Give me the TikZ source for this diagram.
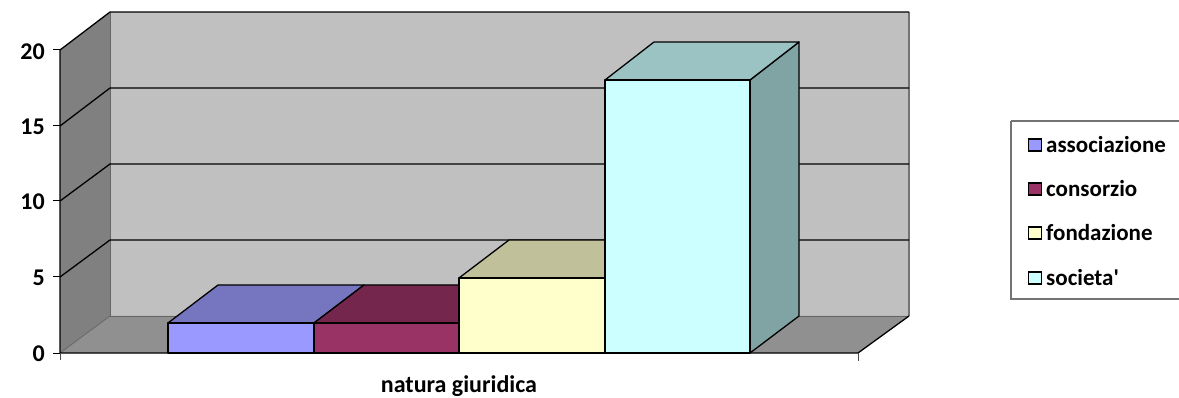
\documentclass[tikz,border=0pt]{standalone}
\usepackage{fontspec}
\setmainfont{Carlito}[Ligatures=TeXOff]
\definecolor{backwall}{HTML}{C0C0C0}
\definecolor{leftwall}{HTML}{808080}
\definecolor{floorc}{HTML}{909090}
\definecolor{assF}{HTML}{9999FF}
\definecolor{assT}{HTML}{7575C0}
\definecolor{conF}{HTML}{993366}
\definecolor{conT}{HTML}{74264D}
\definecolor{fonF}{HTML}{FFFFCC}
\definecolor{fonT}{HTML}{C0C09A}
\definecolor{socF}{HTML}{CCFFFF}
\definecolor{socT}{HTML}{9CC3C3}
\definecolor{socS}{HTML}{80A3A3}
\tikzset{
  grid line/.style={black, line width=1.3pt},
  edge gray/.style={draw=gray!80!black, line width=0.8pt},
  barline/.style={draw=black, line width=1.3pt, line join=round},
  axlabel/.style={font=\fontsize{24}{28}\selectfont\bfseries, anchor=east, inner sep=0pt},
  legtext/.style={font=\fontsize{23}{27}\selectfont\bfseries, anchor=west, inner sep=0pt},
  legsq/.style={draw=black, line width=1.2pt, minimum width=13pt, minimum height=12pt, inner sep=0pt},
}
\begin{document}
\begin{tikzpicture}[x=1pt,y=-1pt]
\useasboundingbox (0,0) rectangle (1179,398);
% walls
\fill[backwall] (110,12) rectangle (909,316);
\fill[leftwall] (60,50) -- (110,12) -- (110,316) -- (60,353) -- cycle;
\fill[floorc] (60,353) -- (110,316) -- (909,316) -- (858,353) -- cycle;
\draw[edge gray] (110,12) -- (110,316) -- (909,316);
\draw[edge gray] (60,353) -- (110,316);
\draw[draw=gray!90!black, line width=2pt] (909,12) -- (909,316);
% gridlines
\foreach \yf/\yb in {50/12,126/88,201/164,277/240}{
  \draw[grid line] (60,\yf) -- (110,\yb) -- (909,\yb);
}
% axes
\draw[black, line width=1.3pt] (60,50) -- (60,353) -- (858,353) -- (909,316);
\foreach \yf in {50,126,201,277,353}{
  \draw[black, line width=1pt] (53,\yf) -- (60,\yf);
}
\draw[black!70, line width=1pt] (60,353) -- (60,360);
\draw[black!70, line width=1pt] (858,353) -- (858,361);
\node[axlabel] (l20) at (45,52) {20};
\node[axlabel] (l15) at (45,127) {15};
\node[axlabel] (l10) at (45,202) {10};
\node[axlabel] (l5) at (45,278) {5};
\node[axlabel] (l0) at (45,354) {0};
% bars
\filldraw[barline, fill=assT] (168,323) -- (218,285) -- (364,285) -- (314,323) -- cycle;
\filldraw[barline, fill=assF] (168,323) rectangle (314,353);
\filldraw[barline, fill=conT] (314,323) -- (364,285) -- (509,285) -- (459,323) -- cycle;
\filldraw[barline, fill=conF] (314,323) rectangle (459,353);
\filldraw[barline, fill=fonT] (459,278) -- (509,240) -- (655,240) -- (605,278) -- cycle;
\filldraw[barline, fill=fonF] (459,278) rectangle (605,353);
\filldraw[barline, fill=socS] (750,80) -- (799,42) -- (799,316) -- (750,353) -- cycle;
\filldraw[barline, fill=socT] (605,80) -- (654,42) -- (799,42) -- (750,80) -- cycle;
\filldraw[barline, fill=socF] (605,80) rectangle (750,353);
% axis title
\node[font=\fontsize{24}{28}\selectfont\bfseries, inner sep=0pt] (title) at (459,386) {natura giuridica};
% legend
\draw[draw=gray!90!black, line width=1.2pt, fill=white] (1011,121) -- (1181,121) (1011,121) -- (1011,299) -- (1181,299);
\node[legsq, fill=assF] (s1) at (1035,145) {};
\node[legsq, fill=conF] (s2) at (1035,189) {};
\node[legsq, fill=fonF] (s3) at (1035,233) {};
\node[legsq, fill=socF] (s4) at (1035,278) {};
\node[legtext] (t1) at (1046,145) {associazione};
\node[legtext] (t2) at (1046,189) {consorzio};
\node[legtext] (t3) at (1046,233) {fondazione};
\node[legtext] (t4) at (1046,278) {societa'};
\end{tikzpicture}
\end{document}
